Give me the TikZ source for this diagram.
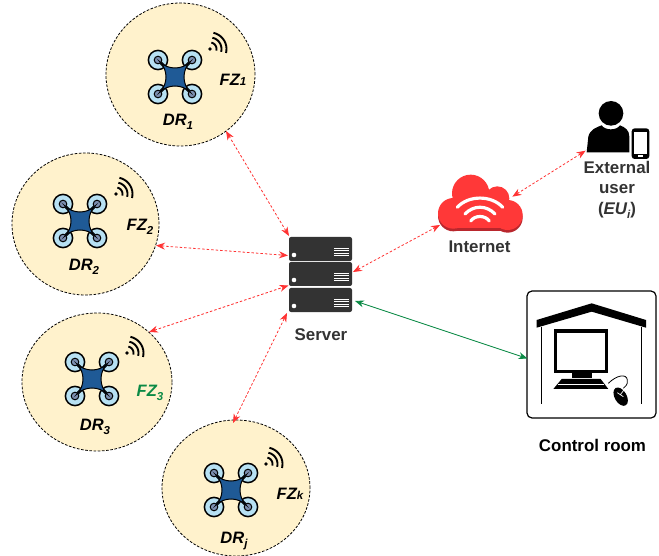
\documentclass[tikz,border=0pt]{standalone}
\usepackage{fontspec}
\setmainfont{Liberation Sans}
\usetikzlibrary{shapes.geometric,arrows.meta}
\definecolor{zonefill}{HTML}{FFF2CC}
\definecolor{arrred}{HTML}{FF3333}
\definecolor{cloudred}{HTML}{FF3838}
\definecolor{clouddark}{HTML}{B9272D}
\definecolor{arrgreen}{HTML}{0B8A45}
\definecolor{txtgrey}{HTML}{333333}
\definecolor{dronebody}{HTML}{1F5A96}
\definecolor{rotorblue}{HTML}{B7E1F3}
\definecolor{hubgrey}{HTML}{7C8FB0}
\newcommand\subtxt[1]{\raisebox{-0.28em}{\fontsize{11.5}{12}\selectfont #1}}
\newcommand\subhigh[1]{\raisebox{-0.02em}{\fontsize{11.5}{12}\selectfont #1}}
\tikzset{
  zone/.style={ellipse,draw=black,fill=zonefill,line width=0.8pt,dash pattern=on 2.6pt off 1.6pt,inner sep=0pt},
  zonelabel/.style={font=\fontsize{16.5}{18}\selectfont\bfseries\itshape,inner sep=0pt,text=black},
  lab/.style={font=\fontsize{16.9}{20.5}\selectfont\bfseries,inner sep=0pt,text=txtgrey,align=center},
  redlink/.style={arrred,line width=0.8pt,dash pattern=on 2.5pt off 2pt,{Stealth[length=9pt,width=7pt,fill=arrred]}-{Stealth[length=9pt,width=7pt,fill=arrred]}},
  greenlink/.style={arrgreen,line width=0.9pt,{Stealth[length=9pt,width=7pt,fill=arrgreen]}-{Stealth[length=9pt,width=7pt,fill=arrgreen]}},
  rack/.style={draw=none,fill=txtgrey,rounded corners=2pt,minimum width=63pt,inner sep=0pt},
  drone/.pic={
    \foreach \sx/\sy in {-1/-1,1/-1,-1/1,1/1}{
      \fill[rotorblue,draw=black,line width=1.5pt] (\sx*17,\sy*17) circle (9.6);
    }
    \foreach \sx/\sy in {-1/-1,1/-1,-1/1,1/1}{
      \draw[black,line width=3pt] (\sx*17,\sy*17) -- (0,0);
      \draw[dronebody,line width=1.2pt] (\sx*17,\sy*17) -- (0,0);
      \fill[hubgrey,draw=black,line width=1pt] (\sx*17,\sy*17) circle (3.8);
    }
    \filldraw[fill=dronebody,draw=black,line width=1pt] (-15,-15)
      .. controls (-7,-7) and (7,-7) .. (15,-15)
      .. controls (7,-7) and (7,7) .. (15,15)
      .. controls (7,7) and (-7,7) .. (-15,15)
      .. controls (-7,7) and (-7,-7) .. (-15,-15) -- cycle;
  },
  wifi/.pic={
    \fill[black] (0,0) circle (1.9);
    \foreach \r in {6.5,11.5,16.5}{
      \draw[black,line width=1.9pt] plot[variable=\t,domain=-78:14,samples=12,smooth] (\t:\r);
    }
  }
}
\begin{document}
\begin{tikzpicture}[x=1pt,y=-1pt]
\useasboundingbox (0,0) rectangle (659,556);
% zones
\node[zone,minimum width=149pt,minimum height=143pt] (fz1) at (180.5,74.5) {};
\node[zone,minimum width=147pt,minimum height=142pt] (fz2) at (85.5,224) {};
\node[zone,minimum width=150pt,minimum height=138pt] (fz3) at (97,382) {};
\node[zone,minimum width=148pt,minimum height=136pt] (fzk) at (236,488) {};
% drones
\pic at (175,77) {drone};
\pic at (80,221) {drone};
\pic at (92,379) {drone};
\pic at (231,490) {drone};
% signal
\pic at (210,49) {wifi};
\pic at (116,194) {wifi};
\pic at (127,353) {wifi};
\pic at (266,464) {wifi};
% zone labels
\node[zonelabel] (l1) at (233,80) {FZ\subhigh{1}};
\node[zonelabel] (l2) at (140,227) {FZ\subtxt{2}};
\node[zonelabel,text=arrgreen] (l3) at (150,393) {FZ\subtxt{3}};
\node[zonelabel] (lk) at (290,494) {FZ\subhigh{k}};
\node[zonelabel] (d1) at (178,122) {DR\subtxt{1}};
\node[zonelabel] (d2) at (84,267) {DR\subtxt{2}};
\node[zonelabel] (d3) at (95,427) {DR\subtxt{3}};
\node[zonelabel] (dj) at (234,541) {DR\subtxt{j}};
% server
\foreach \n/\y in {1/249,2/274,3/300}{
  \node[rack,minimum height=24pt] (rack\n) at (320.5,\y) {};
  \fill[white] (294,\y+6) circle (2.3);
  \foreach \d in {0,2.4,4.8,7.2}{
    \fill[white] (334,\y-0.6+\d-0.6) rectangle (349,\y-0.6+\d+0.6);
  }
}
\node[lab] (serverlab) at (321,335) {Server};
% cloud
\begin{scope}[shift={(420,90)},scale=1/3]
  \begin{scope}[yshift=-8]
    \fill[clouddark] (100,370) circle (46);
    \fill[clouddark] (263,375) circle (45);
    \fill[clouddark] (100,370) rectangle (263,416);
  \end{scope}
  \foreach \cx/\cy/\cr in {100/370/46,152/310/56,232/325/36,263/375/45}{
    \fill[cloudred] (\cx,\cy) circle (\cr);
  }
  \fill[cloudred] (100,330) rectangle (263,415);
  \draw[white,line width=3.2pt,line cap=round] (112,352) .. controls (145,315) and (215,315) .. (248,352);
  \draw[white,line width=3.2pt,line cap=round] (135,372) .. controls (160,345) and (200,345) .. (225,372);
  \draw[white,line width=3.2pt,line cap=round] (152,393) .. controls (165,375) and (195,375) .. (208,393);
  \coordinate (cloudw) at (60,405);
  \coordinate (cloudn) at (277,320);
  % person
  \fill[black] (573,70) circle (37);
  \fill[black] (500,187) -- (505,140) .. controls (510,118) and (530,112) .. (545,106)
     .. controls (555,122) and (590,122) .. (600,106)
     .. controls (615,112) and (628,120) .. (628,140) -- (628,187) -- cycle;
  \fill[black,rounded corners=3pt] (635,115) rectangle (688,207);
  \fill[white] (642,127) rectangle (681,191);
  \fill[white] (655,196) rectangle (668,201);
  \coordinate (userw) at (497,182);
\end{scope}
\node[lab] (internet) at (479.5,247) {Internet};
\node[lab] (user) at (617,190) {External\\user\\(\textit{EU\subtxt{i}})};
% control room
\node[draw=black,line width=1.2pt,rounded corners=5pt,fill=white,minimum width=129pt,minimum height=127pt,inner sep=0pt] (room) at (591.5,354.5) {};
\begin{scope}[shift={(510,280)},scale=1/3]
  \fill[black] (80,120) -- (245,70) -- (408,120) -- (408,143) -- (245,95) -- (80,143) -- cycle;
  \draw[black,line width=1.5pt] (95,140) -- (95,372) (395,140) -- (395,372);
  \draw[black,line width=3.2pt] (136,153) rectangle (290,274);
  \fill[black] (185,277) rectangle (245,295);
  \fill[black] (155,297) -- (272,297) -- (295,327) -- (130,327) -- cycle;
  \draw[white,line width=0.8pt] (143,312) -- (283,312);
  \draw[black,line width=0.8pt] (295,310) .. controls (320,285) and (350,280) .. (352,300) .. controls (354,315) and (345,320) .. (340,325);
  \fill[black,rotate around={-60:(332,350)}] (332,350) ellipse (30 and 18);
  \draw[white,line width=0.7pt] (322,338) -- (340,350) (331,344) -- (345,326);
\end{scope}
\node[lab,text=black] (roomlab) at (592.5,445) {Control room};
% connector ends
\coordinate (fz1e) at (226,131);
\coordinate (srv1) at (289,236);
\coordinate (fz2e) at (156,245.5);
\coordinate (srv2) at (288,255.5);
\coordinate (fz3e) at (149,332);
\coordinate (srv3) at (288.5,285.5);
\coordinate (fzke) at (233,423);
\coordinate (srv4) at (287,313);
\coordinate (srv5) at (353,272);
\coordinate (srv6) at (355,301);
\coordinate (roomw) at (527.5,358.5);
% connectors
\draw[redlink] (fz1e) -- (srv1);
\draw[redlink] (fz2e) -- (srv2);
\draw[redlink] (fz3e) -- (srv3);
\draw[redlink] (fzke) -- (srv4);
\draw[redlink] (srv5) -- (cloudw);
\draw[redlink] (cloudn) -- (userw);
\draw[greenlink] (srv6) -- (roomw);
\end{tikzpicture}
\end{document}
